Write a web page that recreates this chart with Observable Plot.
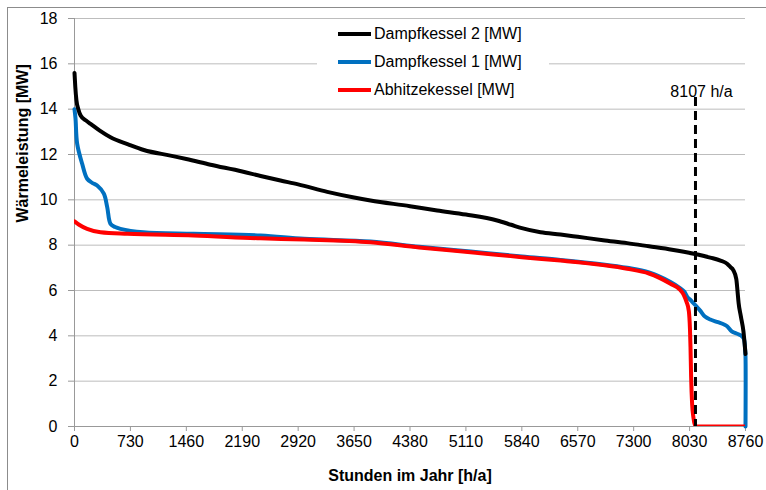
<!DOCTYPE html>
<html><head><meta charset="utf-8">
<script src="https://cdn.jsdelivr.net/npm/d3@7"></script>
<script src="https://cdn.jsdelivr.net/npm/@observablehq/plot@0.6"></script>
<style>
body{margin:0;background:#fff;font-family:"Liberation Sans",Arial,sans-serif;}
#wrap{position:relative;width:766px;height:490px;overflow:hidden;}
#legend{position:absolute;left:317px;top:21px;width:232px;height:83px;background:#fff;font-size:16px;color:#000;}
.row{position:absolute;left:21px;height:20px;display:flex;align-items:center;}
.sw{width:33px;height:4px;margin-right:3px;}
</style></head>
<body>
<div id="wrap"><div id="legend"></div></div>
<script>
// Tick values
const xTicks = [0, 730, 1460, 2190, 2920, 3650, 4380, 5110, 5840, 6570, 7300, 8030, 8760];
const yTicks = [0, 2, 4, 6, 8, 10, 12, 14, 16, 18];

// Series names and colours
const seriesNames = ["Dampfkessel 2 [MW]", "Dampfkessel 1 [MW]", "Abhitzekessel [MW]"];
const seriesColors = ["#000000", "#0070C0", "#FF0000"];

// Dampfkessel 2 (black)
const d2Hours  = [0, 10, 25, 50, 80, 150, 210, 330, 470, 700, 905, 1253, 1460, 1775, 2190, 2430, 2689, 2920, 3300, 3650, 3864, 4380, 4735, 5110, 5518, 5700, 5840, 6084, 6345, 6570, 6900, 7215, 7500, 7800, 8085, 8300, 8433, 8520, 8564, 8600, 8640, 8655, 8670, 8700, 8733, 8760];
const d2Values = [15.6, 15.0, 14.4, 14.0, 13.72, 13.5, 13.35, 13.05, 12.76, 12.45, 12.2, 11.95, 11.8, 11.55, 11.25, 11.05, 10.85, 10.68, 10.35, 10.1, 9.97, 9.72, 9.53, 9.35, 9.09, 8.9, 8.75, 8.57, 8.47, 8.37, 8.22, 8.09, 7.95, 7.8, 7.62, 7.45, 7.32, 7.18, 7.03, 6.9, 6.5, 6.0, 5.45, 4.85, 4.2, 3.2];

// Dampfkessel 1 (blue)
const d1Hours  = [0, 13, 35, 100, 165, 230, 296, 383, 427, 470, 530, 600, 900, 1555, 2430, 3000, 3864, 4500, 5170, 5840, 6345, 6900, 7215, 7500, 7781, 7900, 7960, 8000, 8050, 8107, 8171, 8230, 8300, 8400, 8480, 8520, 8580, 8651, 8700, 8738, 8755, 8760, 8760];
const d1Values = [14.0, 13.6, 12.47, 11.59, 10.93, 10.75, 10.63, 10.27, 9.68, 8.94, 8.8, 8.72, 8.57, 8.5, 8.43, 8.28, 8.16, 7.93, 7.72, 7.5, 7.35, 7.15, 7.0, 6.8, 6.38, 6.12, 5.95, 5.72, 5.55, 5.35, 5.1, 4.85, 4.72, 4.6, 4.5, 4.42, 4.2, 4.09, 4.02, 3.87, 3.4, 3.1, 0];

// Abhitzekessel (red)
const akHours  = [0, 60, 165, 340, 690, 1555, 2430, 3000, 3864, 4500, 5170, 5840, 6345, 6900, 7215, 7500, 7781, 7900, 7955, 7990, 8020, 8035, 8042, 8050, 8063, 8080, 8107, 8760];
const akValues = [9.05, 8.9, 8.72, 8.57, 8.5, 8.43, 8.3, 8.25, 8.13, 7.9, 7.69, 7.47, 7.32, 7.12, 6.96, 6.75, 6.3, 6.05, 5.8, 5.5, 5.1, 4.3, 3.5, 2.2, 1.0, 0.4, 0, 0];

// Annotation
const cutoffHour = 8107;

const toRows = (hs, vs) => hs.map((h, i) => ({h, v: vs[i]}));
const d2 = toRows(d2Hours, d2Values);
const d1 = toRows(d1Hours, d1Values);
const ak = toRows(akHours, akValues);

const font = "'Liberation Sans', Arial, sans-serif";
const chart = Plot.plot({
  width: 766, height: 490,
  marginLeft: 74, marginRight: 21, marginTop: 18, marginBottom: 64,
  style: {fontFamily: font, fontSize: "16px", color: "#000", background: "transparent", overflow: "visible"},
  x: {domain: [0, 8760], ticks: xTicks, tickSize: 5, tickPadding: 4, label: null, tickFormat: d => String(d)},
  y: {domain: [0, 18], ticks: yTicks, tickSize: 6, tickPadding: 11, label: null, tickFormat: d => String(d)},
  marks: [
    Plot.ruleY(yTicks, {stroke: "#bdbdbd", strokeWidth: 1}),
    Plot.ruleX([0], {stroke: "#999"}),
    Plot.ruleY([0], {stroke: "#999"}),
    Plot.line(d1, {x: "h", y: "v", stroke: seriesColors[1], strokeWidth: 4, curve: "catmull-rom", strokeLinejoin: "round"}),
    Plot.line(ak, {x: "h", y: "v", stroke: seriesColors[2], strokeWidth: 4, clip: true, curve: "monotone-x", strokeLinejoin: "round"}),
    Plot.line(d2, {x: "h", y: "v", stroke: seriesColors[0], strokeWidth: 4, curve: "monotone-x", strokeLinejoin: "round"}),
    Plot.ruleX([cutoffHour], {x: d => d, stroke: "#000", strokeWidth: 3, strokeDasharray: "9,5", insetTop: 79}),
    Plot.text([cutoffHour], {x: d => d, frameAnchor: "top", dy: 67, dx: 6, text: d => `${d} h/a`, fontSize: 16, fill: "#000"}),
    Plot.text(["Stunden im Jahr [h/a]"], {frameAnchor: "bottom", dy: 54, text: d => d, fontWeight: "bold", fontSize: 16, fill: "#000"}),
    Plot.text(["Wärmeleistung [MW]"], {frameAnchor: "left", dx: -52, rotate: -90, text: d => d, fontWeight: "bold", fontSize: 16, fill: "#000"})
  ]
});

const svg = d3.select(chart.tagName.toLowerCase() === "svg" ? chart : chart.querySelector("svg"));
svg.selectAll("[aria-label*='tick'] path, .tick line, .domain").attr("stroke", "#999");
svg.insert("rect", ":first-child")
  .attr("x", 7.5).attr("y", 7.5).attr("width", 900).attr("height", 900)
  .attr("fill", "none").attr("stroke", "#8c8c8c");

const wrap = document.getElementById("wrap");
wrap.insertBefore(chart, wrap.firstChild);
chart.style.position = "absolute"; chart.style.left = "0"; chart.style.top = "0";

const legend = d3.select("#legend");
seriesNames.forEach((name, i) => {
  const row = legend.append("div").attr("class", "row").style("top", (3 + i * 28) + "px");
  row.append("div").attr("class", "sw").style("background", seriesColors[i]);
  row.append("span").text(name);
});
</script>
</body></html>
